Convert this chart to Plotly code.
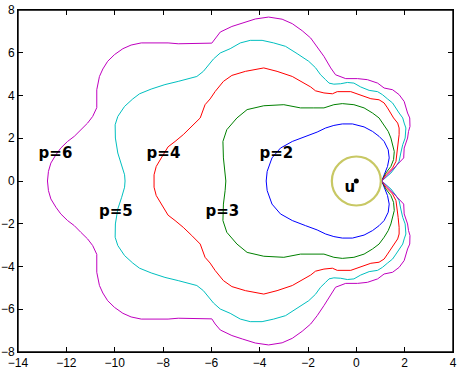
import plotly.graph_objects as go

# upper halves of the closed curves, traced from the pinch point (right) round to the left;
# the lower halves are the mirror image about y=0
p2_x = [1.05, 1.15, 1.29, 1.36, 1.32, 1.15, 0.94, 0.67, 0.32, -0.16, -0.58, -0.93, -1.27,
        -1.62, -2.10, -2.65, -3.14, -3.49, -3.69, -3.73]
p2_y = [0, 0.29, 0.68, 1.08, 1.46, 1.85, 2.09, 2.32, 2.53, 2.67, 2.67, 2.60, 2.48,
        2.29, 2.09, 1.85, 1.54, 1.08, 0.45, 0]

p3_x = [1.05, 1.22, 1.43, 1.54, 1.57, 1.50, 1.43, 1.32, 1.15, 0.94, 0.67, 0.32, -0.10,
        -0.58, -0.93, -1.34, -1.76, -2.31, -3.00, -3.83, -4.52, -4.94, -5.36, -5.52,
        -5.50, -5.43, -5.40]
p3_y = [0, 0.37, 0.68, 1.00, 1.38, 1.70, 2.01, 2.32, 2.63, 2.95, 3.18, 3.42, 3.57,
        3.62, 3.57, 3.42, 3.42, 3.42, 3.57, 3.52, 3.34, 2.95, 2.40, 1.85,
        1.08, 0.45, 0]

p4_x = [1.05, 1.22, 1.50, 1.64, 1.68, 1.73, 1.77, 1.77, 1.71, 1.54, 1.43, 1.29, 1.15,
        0.94, 0.60, 0.32, 0.11, -0.23, -0.79, -0.99, -1.34, -1.69, -1.89, -2.24, -2.65,
        -3.28, -3.83, -4.59, -5.15, -5.50, -5.84, -6.05, -6.26, -6.46, -6.81, -7.16,
        -7.50, -7.79, -8.07, -8.28, -8.37, -8.37]
p4_y = [0, 0.29, 0.61, 0.92, 1.31, 1.70, 2.17, 2.48, 2.71, 2.95, 3.18, 3.42, 3.65,
        3.80, 3.85, 3.96, 4.04, 4.18, 4.18, 4.08, 4.12, 4.22, 4.40, 4.61, 4.89,
        5.13, 5.29, 5.13, 4.94, 4.66, 4.19, 3.84, 3.57, 2.95, 2.55, 2.17,
        1.85, 1.60, 1.08, 0.68, 0.29, 0]

p5_x = [1.05, 1.43, 1.64, 1.77, 1.84, 1.92, 2.02, 2.05, 1.98, 1.92, 1.77, 1.64, 1.50,
        1.29, 1.08, 0.88, 0.53, 0.18, -0.10, -0.37, -0.65, -0.93, -1.13, -1.27, -1.48,
        -1.69, -1.97, -2.45, -2.93, -3.42, -3.90, -4.39, -4.80, -5.22, -5.63, -5.91,
        -6.12, -6.33, -6.60, -6.95, -7.37, -7.92, -8.49, -8.97, -9.25, -9.59, -9.87,
        -9.98, -9.97, -9.87, -9.71, -9.59, -9.57]
p5_y = [0, 0.37, 0.68, 0.92, 1.31, 1.70, 2.01, 2.48, 2.71, 2.95, 3.18, 3.42, 3.65,
        3.84, 4.04, 4.18, 4.24, 4.40, 4.58, 4.61, 4.55, 4.53, 4.58, 4.74, 4.97,
        5.30, 5.60, 5.96, 6.30, 6.46, 6.58, 6.58, 6.46, 6.19, 5.99, 5.71,
        5.44, 5.13, 4.89, 4.77, 4.66, 4.51, 4.30, 4.08, 3.84, 3.49, 3.02,
        2.63, 2.01, 1.31, 0.76, 0.29, 0]

p6_x = [1.05, 1.50, 1.76, 1.96, 1.98, 2.12, 2.16, 2.22, 2.21, 2.12, 1.98, 1.77, 1.50,
        1.15, 0.88, 0.46, 0.05, -0.44, -0.86, -1.06, -1.34, -1.62, -1.89, -2.24, -2.65,
        -3.07, -3.63, -4.18, -4.72, -5.15, -5.63, -5.84, -5.98, -7.37, -7.79, -8.90,
        -9.32, -9.66, -10.01, -10.29, -10.49, -10.63, -10.70, -10.74, -10.74, -10.91,
        -11.12, -11.40, -11.67, -11.95, -12.23, -12.43, -12.64, -12.74, -12.78]
p6_y = [0, 0.53, 0.84, 1.08, 1.54, 2.01, 2.32, 2.55, 2.95, 3.18, 3.72, 4.04, 4.27,
        4.35, 4.58, 4.74, 4.79, 4.79, 4.97, 5.29, 5.83, 6.30, 6.69, 7.03, 7.36,
        7.57, 7.67, 7.58, 7.39, 7.23, 6.97, 6.69, 6.45, 6.42, 6.46, 6.46,
        6.36, 6.19, 5.91, 5.60, 5.24, 4.89, 4.58, 4.27, 3.43, 3.02,
        2.71, 2.40, 2.09, 1.85, 1.54, 1.23, 0.84, 0.45, 0]

curves = [
    ("p=2", p2_x, p2_y, "#0000ff"),
    ("p=3", p3_x, p3_y, "#008000"),
    ("p=4", p4_x, p4_y, "#ff0000"),
    ("p=5", p5_x, p5_y, "#00bfbf"),
    ("p=6", p6_x, p6_y, "#bf00bf"),
]

label_text = ["p=2", "p=3", "p=4", "p=5", "p=6", "u"]
label_x = [-3.31, -5.54, -7.98, -9.95, -12.45, -0.27]
label_y = [1.23, -1.48, 1.23, -1.48, 1.23, -0.36]

center_x = [0]
center_y = [0]

x_ticks = list(range(-14, 5, 2))
y_ticks = list(range(-8, 9, 2))

fig = go.Figure()

for name, xs, ys, color in curves:
    full_x = xs + xs[::-1][1:]
    full_y = ys + [-v for v in ys[::-1][1:]]
    fig.add_trace(go.Scatter(x=full_x, y=full_y, mode="lines", name=name,
                             line=dict(color=color, width=1), cliponaxis=False))

# circle round u (drawn as a pixel-sized marker, it is round on screen)
fig.add_trace(go.Scatter(x=center_x, y=center_y, mode="markers",
                         marker=dict(symbol="circle-open", size=49, color="#c8c864",
                                     line=dict(width=2.2))))
fig.add_trace(go.Scatter(x=center_x, y=center_y, mode="markers",
                         marker=dict(symbol="circle", size=5, color="black")))

fig.add_trace(go.Scatter(x=label_x, y=label_y, mode="text", text=label_text,
                         textfont=dict(family="DejaVu Sans", size=15, color="black",
                                       weight="bold")))

axis_style = dict(showline=True, linecolor="black", linewidth=1, mirror="ticks",
                  ticks="inside", ticklen=5, tickcolor="black", showgrid=False,
                  zeroline=False, automargin=False,
                  tickfont=dict(family="Liberation Sans", size=12, color="black"))

fig.update_xaxes(range=[-14, 4], tickvals=x_ticks, **axis_style)
fig.update_yaxes(range=[-8, 8], tickvals=y_ticks, **axis_style)

# full box round the axes (paper shapes are not clipped to the plot area)
fig.add_shape(type="rect", xref="paper", yref="paper", x0=0, x1=1, y0=0, y1=1,
              line=dict(color="black", width=1.4), layer="above")

fig.update_layout(
    width=461, height=374,
    margin=dict(l=18, r=8, t=10, b=22),
    plot_bgcolor="white", paper_bgcolor="white",
    showlegend=False,
)

# drop the browser's default body margin so the figure sits at the window corner
fig.write_html("out.html", config={"displayModeBar": False},
               post_script="document.body.style.margin='0';"
                           "document.body.style.overflow='hidden';")
